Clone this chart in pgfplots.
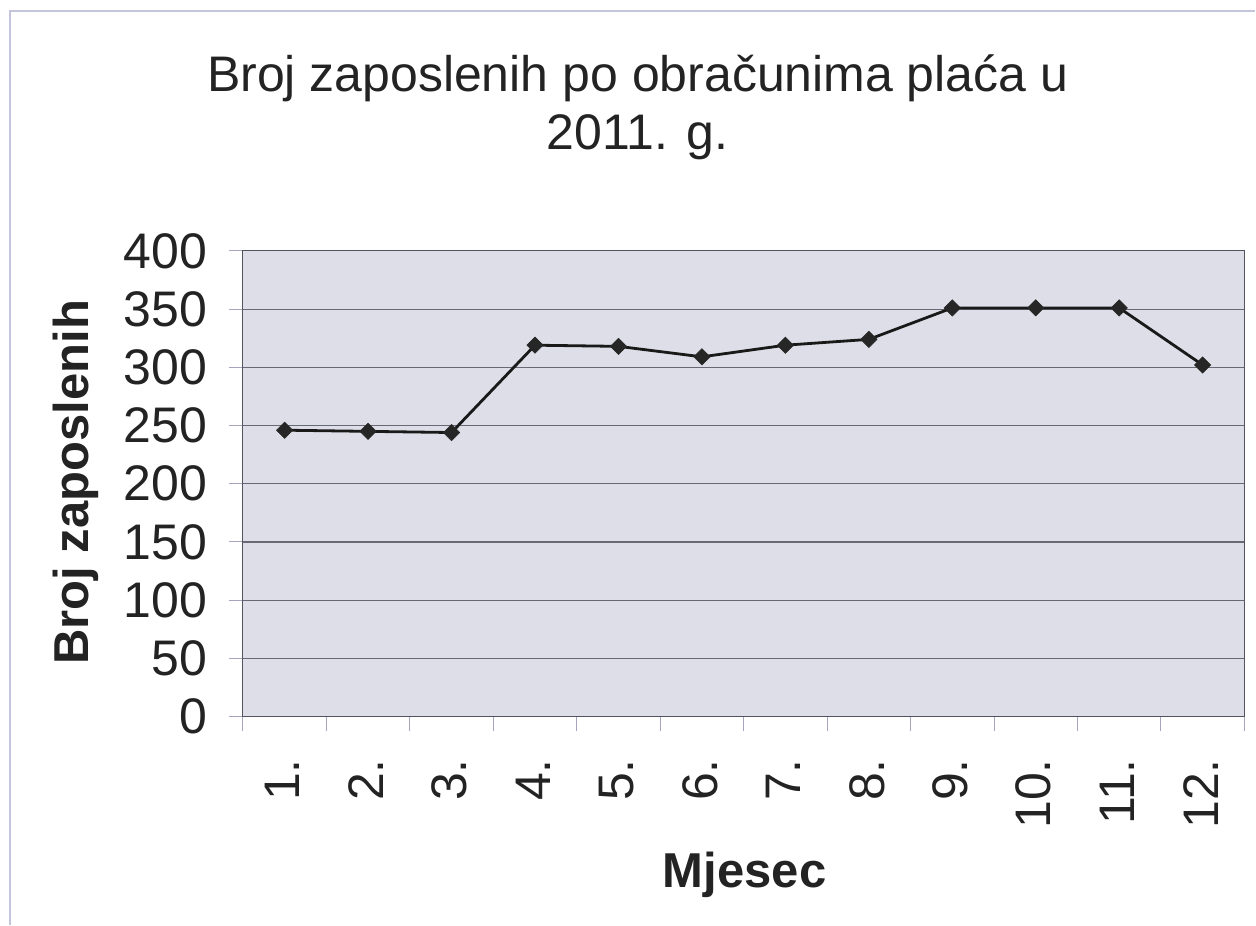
\documentclass[border=0pt]{standalone}
\usepackage{pgfplots}
\pgfplotsset{compat=1.18}
\usepackage{fontspec}
\setmainfont{Liberation Sans}
\definecolor{plotbg}{RGB}{221,222,231}
\definecolor{gridc}{RGB}{105,105,118}
\definecolor{tickc}{RGB}{165,166,190}
\definecolor{framec}{RGB}{195,197,220}
\definecolor{txt}{RGB}{35,35,35}
\begin{document}
\begin{tikzpicture}[x=1pt,y=1pt]
\path (0,0) rectangle (1256,925);
\draw[framec, line width=1.2pt] (10,0) -- (10,914) -- (1256,914);
\begin{axis}[
  at={(243pt,208pt)}, anchor=south west,
  scale only axis, width=1002pt, height=466pt,
  xmin=0.5, xmax=12.5, ymin=0, ymax=400,
  axis background/.style={fill=plotbg},
  xtick={1,2,3,4,5,6,7,8,9,10,11,12},
  xticklabels={1.,2.,3.,4.,5.,6.,7.,8.,9.,10.,11.,12.},
  minor xtick={0.5,1.5,2.5,3.5,4.5,5.5,6.5,7.5,8.5,9.5,10.5,11.5,12.5},
  major x tick style={draw=none},
  ytick={0,50,100,150,200,250,300,350,400},
  tick align=outside,
  major tick length=14pt, minor tick length=14pt,
  every tick/.style={tickc, line width=1pt},
  xtick pos=bottom, ytick pos=left,
  ymajorgrids=true, xmajorgrids=false,
  major grid style={gridc, line width=1.1pt},
  axis line style={draw=gridc!80!black, line width=1.2pt},
  /pgf/number format/assume math mode=true,
  ticklabel style={font=\fontsize{50}{60}\selectfont, text=txt},
  xticklabel style={yshift=-25pt, xshift=-2pt, rotate=90, anchor=east},
  yticklabel style={xshift=-18pt},
  clip=false,
]
\addplot[black!90, line width=2.8pt, mark=square*, mark size=5.8pt,
  mark options={rotate=45, fill=black!85, draw=black!85, line width=0.5pt}]
  coordinates {(1,246) (2,245) (3,244) (4,319) (5,318) (6,309) (7,319) (8,324) (9,351) (10,351) (11,351) (12,302)};
\end{axis}
\node[anchor=base, font=\fontsize{50}{60}\selectfont, text=txt] at (638,833) {Broj zaposlenih po obračunima plaća u};
\node[anchor=base, font=\fontsize{50}{60}\selectfont, text=txt] at (638,775) {2011. g.};
\node[anchor=base, rotate=90, font=\fontsize{49}{59}\selectfont\bfseries, text=txt] at (89,442.5) {Broj zaposlenih};
\node[anchor=base, font=\fontsize{49}{59}\selectfont\bfseries, text=txt] at (745,37) {Mjesec};
\end{tikzpicture}
\end{document}
